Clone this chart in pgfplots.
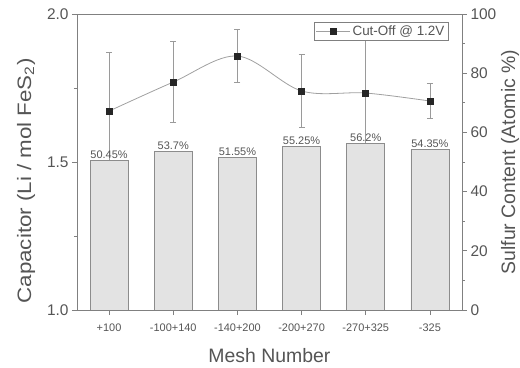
\documentclass[border=0pt]{standalone}
\usepackage{fontspec}
\setmainfont{Liberation Sans}
\usepackage{pgfplots}
\pgfplotsset{compat=1.18}
\definecolor{txt}{HTML}{555555}
\definecolor{axc}{HTML}{808080}
\definecolor{barfill}{HTML}{E3E3E3}
\definecolor{baredge}{HTML}{8C8C8C}
\definecolor{linec}{HTML}{A0A0A0}
\definecolor{errc}{HTML}{9A9A9A}
\begin{document}
\begin{tikzpicture}
\useasboundingbox (-77bp,-58bp) rectangle (443bp,310bp);
\pgfplotsset{
  common/.style={
    scale only axis, width=385bp, height=296bp,
    xmin=-0.5, xmax=5.5,
    /pgf/number format/assume math mode=true,
    tick align=outside,
    major tick length=5bp, minor tick length=3bp,
    axis line style={axc, line width=0.8bp},
    every tick/.style={axc, line width=0.8bp},
    yticklabel style={font=\fontsize{15.5}{18}\selectfont, text=txt},
    xticklabel style={font=\fontsize{11}{13}\selectfont, text=txt, yshift=-5bp},
    label style={font=\fontsize{19.5}{22}\selectfont, text=txt},
  }
}
\begin{axis}[
  common,
  ymin=1, ymax=2,
  xtick={0,1,2,3,4,5},
  xticklabels={+100,-100+140,-140+200,-200+270,-270+325,-325},
  xtick pos=bottom, ytick pos=left,
  ytick={1,1.5,2}, minor ytick={1.25,1.75},
  yticklabel style={/pgf/number format/.cd, fixed, fixed zerofill, precision=1},
  xlabel={Mesh Number},
  xlabel style={yshift=-10bp},
  ylabel={\scalebox{1.15}[1]{Capacitor (Li / mol FeS\textsubscript{2})}},
  ylabel style={at={(ticklabel cs:0.436)}, yshift=5bp},
  legend style={at={(rel axis cs:0.964,0.973)}, anchor=north east,
    draw=axc, fill=white, font=\fontsize{13.5}{15}\selectfont, text=txt,
    inner sep=1.5bp, row sep=0bp},
  legend cell align=left,
  legend image code/.code={\draw[#1, mark repeat=2, mark phase=2] plot coordinates {(0bp,0bp) (17bp,0bp) (34bp,0bp)};},
]
\addplot[color=linec, line width=0.8bp, smooth, tension=0.55,
  mark=square*, mark size=3bp,
  mark options={draw=black!85, fill=black!85, solid},
  error bars/.cd, y dir=both, y explicit,
  error bar style={color=errc, line width=0.6bp},
  error mark options={rotate=90, mark size=3bp, color=errc, line width=0.6bp}]
coordinates {
  (0,1.672) +- (0,0.200)
  (1,1.770) +- (0,0.137)
  (2,1.858) +- (0,0.090)
  (3,1.740) +- (0,0.123)
  (4,1.733) +- (0,0.180)
  (5,1.706) +- (0,0.060)
};
\addlegendentry{Cut-Off @ 1.2V}
\end{axis}
\begin{axis}[
  common,
  ymin=0, ymax=100,
  axis y line*=right, axis x line=none,
  ytick={0,20,40,60,80,100}, minor ytick={10,30,50,70,90},
  ylabel={Sulfur Content (Atomic \%)},
  ylabel style={yshift=2bp},
]
\addplot[ybar, bar width=38bp, fill=barfill, draw=baredge, line width=0.8bp,
  point meta=y,
  nodes near coords={\pgfmathprintnumber{\pgfplotspointmeta}\%},
  every node near coord/.append style={font=\fontsize{11}{13}\selectfont, text=txt, inner sep=1.5bp}]
coordinates {
  (0,50.45) (1,53.7) (2,51.55) (3,55.25) (4,56.2) (5,54.35)
};
\end{axis}
\end{tikzpicture}
\end{document}
